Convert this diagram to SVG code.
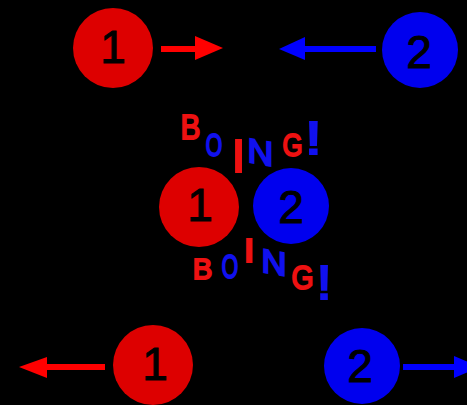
<svg xmlns="http://www.w3.org/2000/svg" width="467" height="405" viewBox="0 0 467 405">
<defs>
<style>
.r{fill:#dd0000}
.b{fill:#0000ee}
.num{font-family:"Liberation Sans",Arial,sans-serif;font-size:46px;fill:#000;stroke:#000;stroke-width:1;text-anchor:middle}
.lt{font-family:"Liberation Sans",Arial,sans-serif;text-anchor:middle;stroke-width:2;stroke-linejoin:miter}
.lr{fill:#ee1111;stroke:#ee1111}
.lb{fill:#1111ee;stroke:#1111ee}
</style>
</defs>
<rect x="0" y="0" width="467" height="405" fill="#000"/>
<g id="connectors">
<g fill="#ff0000">
<rect x="161" y="46" width="36" height="6"/>
<polygon points="195,36 223,48 195,60"/>
<rect x="45" y="364" width="60" height="6"/>
<polygon points="47,357 19,367 47,378"/>
</g>
<g fill="#0000ff">
<rect x="303" y="46" width="73" height="6"/>
<polygon points="305,37 279,49 305,60"/>
<rect x="403" y="364" width="53" height="6"/>
<polygon points="454,356 480,367 454,378"/>
</g>
</g>
<g id="red-top"><circle class="r" cx="113" cy="48" r="40"/><text class="num" x="113" y="63">1</text></g>
<g id="blue-top"><circle class="b" cx="420" cy="50" r="38"/><text class="num" x="419" y="68">2</text></g>
<g id="red-mid"><circle class="r" cx="199" cy="207" r="40"/><text class="num" x="200" y="221">1</text></g>
<g id="blue-mid"><circle class="b" cx="291" cy="206" r="38"/><text class="num" x="291" y="223">2</text></g>
<g id="red-bot"><circle class="r" cx="153" cy="365" r="40"/><text class="num" x="155" y="380">1</text></g>
<g id="blue-bot"><circle class="b" cx="362" cy="366" r="38"/><text class="num" x="360" y="382">2</text></g>
<g id="boing-top" class="lt">
<text class="lr" font-size="35" transform="translate(190.5,139) scale(0.85,1)">B</text>
<text class="lb" font-size="31" transform="translate(214,156) scale(0.68,1)">O</text>
<text class="lr" font-size="46" transform="translate(238.5,172) scale(1.1,1)">I</text>
<text class="lb" font-size="34" transform="translate(260.5,164) skewY(10) scale(1.05,1)">N</text>
<text class="lr" font-size="31" transform="translate(292.5,156) scale(0.83,1)">G</text>
<text class="lb" font-size="46" transform="translate(313.5,154) scale(1.35,1)">!</text>
</g>
<g id="boing-bot" class="lt">
<text class="lr" font-size="29.3" transform="translate(202.5,279)">B</text>
<text class="lb" font-size="32.4" transform="translate(230,278) scale(0.65,1)">O</text>
<text class="lr" font-size="33.5" transform="translate(249,262) scale(1.2,1)">I</text>
<text class="lb" font-size="33" transform="translate(274,274) skewY(10) scale(1.05,1)">N</text>
<text class="lr" font-size="33.8" transform="translate(302.5,289) scale(0.84,1)">G</text>
<text class="lb" font-size="49" transform="translate(324,299) scale(1.15,1)">!</text>
</g>
</svg>
